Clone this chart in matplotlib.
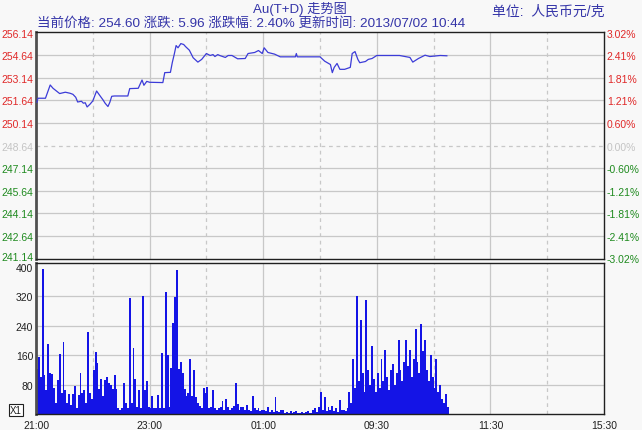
import matplotlib
matplotlib.use("Agg")
import matplotlib.pyplot as plt
import matplotlib.transforms as mtransforms
import numpy as np

plt.rcParams['font.family'] = ['Liberation Sans', 'Noto Sans CJK SC', 'DejaVu Sans']

# ---- data -------------------------------------------------------------
BASE_PRICE = 248.64
PRICE_LEVELS = [256.14, 254.64, 253.14, 251.64, 250.14, 248.64,
                247.14, 245.64, 244.14, 242.64, 241.14]
VOLUME_LEVELS = [80, 160, 240, 320, 400]

TIME_TICKS = [0, 120, 240, 360, 480, 600]      # trading minutes from 21:00
TIME_LABELS = ["21:00", "23:00", "01:00", "09:30", "11:30", "15:30"]

# minute index (trading time since 21:00) and price
price_minutes = [1, 2, 10, 15, 18, 22, 25, 31, 36, 39, 42, 44, 48, 50, 52, 54,
                 57, 60, 64, 68, 71, 73, 76, 78, 80, 83, 97, 99, 108, 112, 114,
                 117, 120, 134, 136, 142, 144, 146, 148, 150, 153, 156, 158,
                 162, 166, 171, 175, 180, 184, 187, 189, 192, 194, 200, 203,
                 207, 213, 221, 224, 231, 235, 239, 241, 245, 252, 258, 274,
                 275, 276, 300, 305, 311, 313, 315, 318, 321, 326, 332, 334,
                 337, 340, 342, 348, 351, 355, 360, 384, 395, 398, 404, 411,
                 416, 427, 434]
price_values = [251.51, 251.78, 251.78, 252.66, 252.44, 252.24, 252.09, 252.18,
                252.11, 252.04, 251.84, 251.53, 251.58, 251.45, 251.48, 251.20,
                251.38, 251.60, 252.26, 251.91, 251.65, 251.45, 251.23, 251.51,
                251.91, 251.93, 251.93, 252.42, 252.44, 252.99, 252.64, 252.90,
                252.84, 252.82, 253.48, 253.50, 254.16, 254.69, 255.28, 255.13,
                255.41, 255.35, 255.21, 254.97, 254.47, 254.18, 254.36, 254.75,
                254.62, 254.68, 254.55, 254.68, 254.62, 254.49, 254.62, 254.62,
                254.40, 254.42, 254.75, 254.82, 254.95, 254.75, 255.13, 254.82,
                254.71, 254.53, 254.53, 254.75, 254.53, 254.53, 254.24, 254.02,
                253.48, 253.83, 254.09, 253.70, 253.70, 253.83, 254.75, 254.88,
                254.36, 254.14, 254.22, 254.36, 254.42, 254.62, 254.62, 254.49,
                254.18, 254.42, 254.64, 254.55, 254.62, 254.60]

# volume per 2-minute bucket, starting 21:00
volumes = [
    122, 155, 100, 395, 105, 65, 190, 110, 108, 70,
    30, 92, 163, 58, 195, 64, 30, 55, 25, 55,
    75, 15, 52, 110, 58, 65, 30, 222, 58, 40,
    120, 168, 138, 68, 95, 48, 92, 100, 85, 80,
    68, 105, 68, 15, 12, 15, 85, 30, 15, 315,
    30, 180, 95, 20, 65, 15, 320, 65, 90, 20,
    15, 48, 15, 15, 52, 15, 165, 15, 330, 160,
    20, 125, 248, 318, 390, 122, 140, 110, 68, 48,
    58, 150, 48, 120, 45, 30, 22, 15, 70, 58,
    73, 15, 20, 65, 15, 12, 15, 20, 35, 12,
    40, 18, 10, 15, 22, 85, 28, 12, 18, 20,
    10, 25, 12, 8, 50, 15, 10, 15, 8, 12,
    12, 8, 20, 6, 10, 5, 46, 8, 5, 10,
    12, 4, 6, 3, 8, 4, 5, 8, 3, 4,
    6, 3, 5, 8, 4, 3, 10, 15, 6, 20,
    60, 12, 45, 8, 20, 10, 22, 8, 15, 6,
    38, 10, 12, 8, 15, 60, 30, 150, 70, 320,
    90, 255, 110, 60, 310, 120, 80, 185, 95, 60,
    110, 70, 150, 90, 175, 100, 65, 120, 135, 80,
    110, 200, 120, 90, 140, 200, 130, 175, 100, 150,
    230, 140, 110, 245, 170, 200, 120, 90, 160, 100,
    70, 150, 60, 80, 40, 30, 55, 20,
]

# ---- style ------------------------------------------------------------
BG = "#f8f8f8"
GRID = "#c8c8c8"
RED = "#e02828"
GREEN = "#1e8a1e"
GRAY = "#c4c4c4"
TEXT_BLUE = "#3434a8"
LINE_BLUE = "#3c3cd8"
BAR_BLUE = "#1414e6"

W, H = 642, 431
fig = plt.figure(figsize=(W / 100, H / 100), dpi=100, facecolor=BG)

ax_p = fig.add_axes([36 / W, 1 - 260 / H, 568 / W, 227 / H], facecolor=BG)
ax_v = fig.add_axes([36 / W, 1 - 415 / H, 568 / W, 151 / H], facecolor=BG)


def draw_vgrid(ax):
    for m in range(60, 600, 60):
        ls = "-" if m % 120 == 0 else (0, (3, 3))
        ax.axvline(m, color=GRID, lw=0.9, ls=ls, zorder=0)


def style_spines(ax):
    for side in ("top", "right", "bottom"):
        ax.spines[side].set_color("#202020")
        ax.spines[side].set_linewidth(1.0)
    ax.spines["left"].set_color("#505050")
    ax.spines["left"].set_linewidth(2.0)


def level_color(p):
    if abs(p - BASE_PRICE) < 1e-6:
        return GRAY
    return RED if p > BASE_PRICE else GREEN


def nudge(label, dy_px):
    label.set_transform(label.get_transform()
                        + mtransforms.ScaledTranslation(0, dy_px / 100,
                                                        fig.dpi_scale_trans))


# ---- price panel ------------------------------------------------------
for p in PRICE_LEVELS[1:-1]:
    if abs(p - BASE_PRICE) < 1e-6:
        ax_p.axhline(p, color=GRID, lw=0.9, ls=(0, (3, 3)), zorder=0)
    else:
        ax_p.axhline(p, color=GRID, lw=0.9, zorder=0)
draw_vgrid(ax_p)

ax_p.plot(price_minutes, price_values, color=LINE_BLUE, lw=0.9, zorder=3)

ax_p.set_xlim(0, 600)
ax_p.set_ylim(241.10, 256.18)
ax_p.set_xticks([])
ax_p.set_yticks(PRICE_LEVELS)
ax_p.set_yticklabels([f"{p:.2f}" for p in PRICE_LEVELS], fontsize=7.5)
ax_p.tick_params(axis="y", length=0, pad=2)
for lab, p in zip(ax_p.get_yticklabels(), PRICE_LEVELS):
    lab.set_color(level_color(p))
nudge(ax_p.get_yticklabels()[-1], 2)
style_spines(ax_p)

ax_r = ax_p.twinx()
ax_r.set_ylim(ax_p.get_ylim())
ax_r.set_yticks(PRICE_LEVELS)
ax_r.set_yticklabels([f"{(p - BASE_PRICE) / BASE_PRICE * 100:.2f}%"
                      for p in PRICE_LEVELS], fontsize=7.5)
ax_r.tick_params(axis="y", length=0, pad=2)
for lab, p in zip(ax_r.get_yticklabels(), PRICE_LEVELS):
    lab.set_color(level_color(p))
for s in ax_r.spines.values():
    s.set_visible(False)

# ---- volume panel -----------------------------------------------------
for v in VOLUME_LEVELS[:-1]:
    ax_v.axhline(v, color=GRID, lw=0.9, zorder=0)
draw_vgrid(ax_v)

bucket_x = np.arange(len(volumes)) * 2
ax_v.bar(bucket_x, volumes, width=2.0, align="edge", color=BAR_BLUE,
         linewidth=0, zorder=2)

ax_v.set_xlim(0, 600)
ax_v.set_ylim(0, 410)
ax_v.set_yticks(VOLUME_LEVELS)
ax_v.set_yticklabels([str(v) for v in VOLUME_LEVELS], fontsize=7.5,
                     color="#202020")
nudge(ax_v.get_yticklabels()[-1], -1)
ax_v.set_xticks(TIME_TICKS)
ax_v.set_xticklabels(TIME_LABELS, fontsize=7.5, color="#202020")
ax_v.tick_params(length=0, pad=2)
ax_v.tick_params(axis="x", pad=4)
style_spines(ax_v)

fig.text(16 / W, 1 - 411 / H, "X1", fontsize=7, ha="center", va="center",
         color="#202020",
         bbox=dict(boxstyle="square,pad=0.15", fc="white", ec="#202020",
                   lw=0.8))

# ---- header texts -----------------------------------------------------
fig.text(300 / W, 1 - 9 / H, "Au(T+D) 走势图", fontsize=9.5,
         ha="center", va="center", color=TEXT_BLUE)
fig.text(37 / W, 1 - 24 / H,
         "当前价格: 254.60 涨跌: 5.96 涨跌幅: 2.40% 更新时间: 2013/07/02 10:44",
         fontsize=9.7, ha="left", va="center", color=TEXT_BLUE)
fig.text(605 / W, 1 - 12 / H, "单位:  人民币元/克", fontsize=10,
         ha="right", va="center", color=TEXT_BLUE)

fig.savefig("out.png", dpi=100, facecolor=BG)
